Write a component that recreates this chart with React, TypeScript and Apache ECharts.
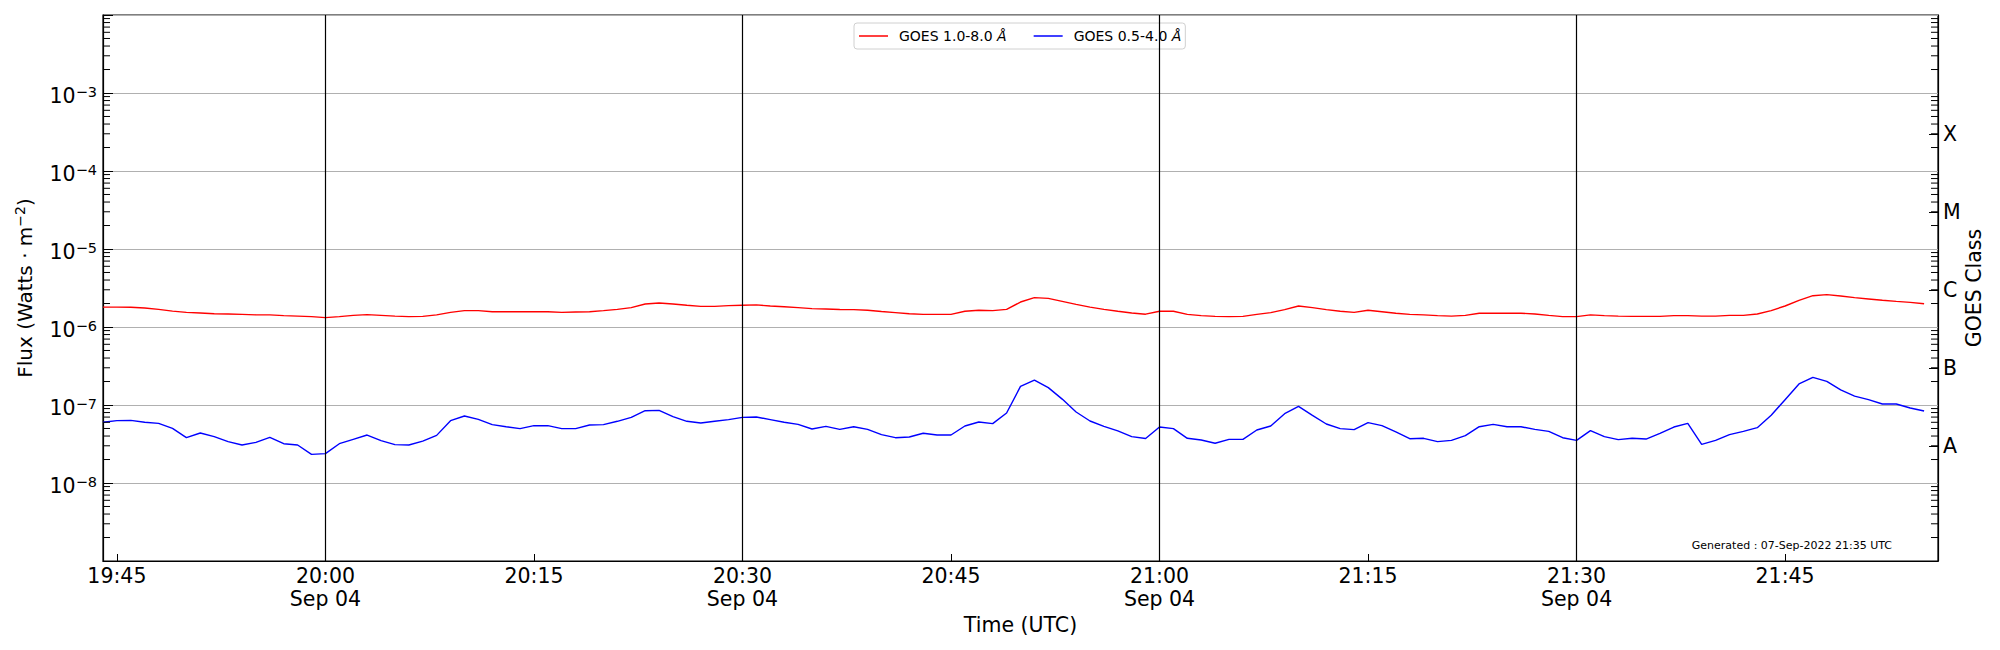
import React, { useEffect, useRef } from "react";
import * as echarts from "echarts";

// ---- Data (1-minute averages, 2022-09-04 19:44 UTC onwards) ----
const START_UTC = Date.UTC(2022, 8, 4, 19, 44);
const CADENCE_MS = 60000;
const X_END_MINUTES = 132;

const seriesNames = ["GOES 1.0-8.0 Å", "GOES 0.5-4.0 Å"];

const xrsLong = [
  1.80e-6, 1.80e-6, 1.79e-6, 1.75e-6, 1.68e-6, 1.60e-6, 1.54e-6, 1.51e-6, 1.48e-6, 1.47e-6,
  1.45e-6, 1.43e-6, 1.43e-6, 1.40e-6, 1.38e-6, 1.36e-6, 1.32e-6, 1.36e-6, 1.41e-6, 1.44e-6,
  1.41e-6, 1.38e-6, 1.36e-6, 1.37e-6, 1.43e-6, 1.54e-6, 1.62e-6, 1.62e-6, 1.57e-6, 1.57e-6,
  1.57e-6, 1.57e-6, 1.57e-6, 1.54e-6, 1.56e-6, 1.57e-6, 1.62e-6, 1.68e-6, 1.77e-6, 1.97e-6,
  2.03e-6, 1.97e-6, 1.90e-6, 1.84e-6, 1.84e-6, 1.88e-6, 1.90e-6, 1.92e-6, 1.86e-6, 1.82e-6,
  1.77e-6, 1.72e-6, 1.70e-6, 1.68e-6, 1.67e-6, 1.64e-6, 1.58e-6, 1.53e-6, 1.48e-6, 1.45e-6,
  1.45e-6, 1.45e-6, 1.59e-6, 1.64e-6, 1.62e-6, 1.68e-6, 2.09e-6, 2.38e-6, 2.33e-6, 2.13e-6,
  1.95e-6, 1.80e-6, 1.68e-6, 1.59e-6, 1.51e-6, 1.46e-6, 1.59e-6, 1.59e-6, 1.45e-6, 1.40e-6,
  1.37e-6, 1.36e-6, 1.37e-6, 1.45e-6, 1.53e-6, 1.67e-6, 1.86e-6, 1.77e-6, 1.67e-6, 1.59e-6,
  1.54e-6, 1.64e-6, 1.57e-6, 1.50e-6, 1.45e-6, 1.43e-6, 1.40e-6, 1.38e-6, 1.41e-6, 1.50e-6,
  1.50e-6, 1.50e-6, 1.50e-6, 1.47e-6, 1.41e-6, 1.36e-6, 1.36e-6, 1.43e-6, 1.40e-6, 1.38e-6,
  1.37e-6, 1.37e-6, 1.37e-6, 1.40e-6, 1.40e-6, 1.38e-6, 1.38e-6, 1.41e-6, 1.41e-6, 1.47e-6,
  1.62e-6, 1.86e-6, 2.20e-6, 2.52e-6, 2.60e-6, 2.50e-6, 2.38e-6, 2.29e-6, 2.20e-6, 2.13e-6,
  2.07e-6, 1.99e-6,
];

const xrsShort = [
  6.00e-8, 6.30e-8, 6.35e-8, 6.00e-8, 5.82e-8, 5.02e-8, 3.81e-8, 4.38e-8, 3.93e-8, 3.39e-8,
  3.07e-8, 3.32e-8, 3.85e-8, 3.19e-8, 3.07e-8, 2.33e-8, 2.38e-8, 3.19e-8, 3.63e-8, 4.12e-8,
  3.49e-8, 3.10e-8, 3.07e-8, 3.45e-8, 4.08e-8, 6.29e-8, 7.22e-8, 6.55e-8, 5.60e-8, 5.27e-8,
  4.98e-8, 5.43e-8, 5.43e-8, 4.98e-8, 4.98e-8, 5.54e-8, 5.60e-8, 6.18e-8, 6.95e-8, 8.45e-8,
  8.54e-8, 7.08e-8, 6.18e-8, 5.88e-8, 6.18e-8, 6.49e-8, 6.95e-8, 7.02e-8, 6.49e-8, 6.00e-8,
  5.65e-8, 4.92e-8, 5.32e-8, 4.87e-8, 5.27e-8, 4.87e-8, 4.17e-8, 3.81e-8, 3.89e-8, 4.34e-8,
  4.12e-8, 4.12e-8, 5.38e-8, 6.05e-8, 5.77e-8, 7.89e-8, 1.73e-7, 2.09e-7, 1.67e-7, 1.19e-7,
  8.13e-8, 6.24e-8, 5.32e-8, 4.65e-8, 3.93e-8, 3.72e-8, 5.22e-8, 4.98e-8, 3.74e-8, 3.56e-8,
  3.23e-8, 3.63e-8, 3.63e-8, 4.78e-8, 5.38e-8, 7.74e-8, 9.61e-8, 7.38e-8, 5.71e-8, 4.98e-8,
  4.83e-8, 5.94e-8, 5.43e-8, 4.51e-8, 3.70e-8, 3.74e-8, 3.39e-8, 3.52e-8, 4.04e-8, 5.27e-8,
  5.65e-8, 5.27e-8, 5.27e-8, 4.87e-8, 4.59e-8, 3.81e-8, 3.52e-8, 4.69e-8, 3.93e-8, 3.60e-8,
  3.74e-8, 3.66e-8, 4.33e-8, 5.22e-8, 5.82e-8, 3.13e-8, 3.52e-8, 4.17e-8, 4.59e-8, 5.12e-8,
  7.38e-8, 1.17e-7, 1.86e-7, 2.26e-7, 2.01e-7, 1.56e-7, 1.30e-7, 1.17e-7, 1.03e-7, 1.03e-7,
  9.16e-8, 8.38e-8,
];

const xTickTimes = ["19:45", "20:00", "20:15", "20:30", "20:45", "21:00", "21:15", "21:30", "21:45"];
const dateLabelTimes = ["20:00", "20:30", "21:00", "21:30"];
const dateLabel = "Sep 04";
const verticalLineTimes = ["20:00", "20:30", "21:00", "21:30"];

const goesClassLabels = ["A", "B", "C", "M", "X"];
const goesClassFlux = [3e-8, 3e-7, 3e-6, 3e-5, 3e-4];

const minorTickDecades = [-9, -8, -7, -6, -5, -4, -3];
const minorTickMantissas = [2, 3, 4, 5, 6, 7, 8, 9];

const generatedText = "Generated : 07-Sep-2022 21:35 UTC";

const FONT = "DejaVu Sans";

function hhmmToMs(s: string): number {
  const [h, m] = s.split(":").map(Number);
  return Date.UTC(2022, 8, 4, h, m);
}
function msToHHMM(v: number): string {
  const d = new Date(v);
  const h = String(d.getUTCHours()).padStart(2, "0");
  const m = String(d.getUTCMinutes()).padStart(2, "0");
  return `${h}:${m}`;
}

export default function App() {
  const ref = useRef<HTMLDivElement>(null);

  useEffect(() => {
    document.body.style.margin = "0";
    if (!ref.current) return;
    const chart = echarts.init(ref.current, null, { renderer: "svg" });

    const xMin = START_UTC;
    const xMax = START_UTC + X_END_MINUTES * CADENCE_MS;
    const longData = xrsLong.map((v, i) => [START_UTC + i * CADENCE_MS, v]);
    const shortData = xrsShort.map((v, i) => [START_UTC + i * CADENCE_MS, v]);
    const minorTicks: number[][] = [];
    minorTickDecades.forEach((e) =>
      minorTickMantissas.forEach((m) => minorTicks.push([xMin, m * Math.pow(10, e)]))
    );
    const classExps = goesClassFlux.map((f) => Math.log10(f));

    const option: any = {
      animation: false,
      textStyle: { fontFamily: FONT, color: "#000" },
      grid: {
        left: 103,
        right: 62,
        top: 15,
        bottom: 89,
        show: true,
        borderColor: "#000",
        borderWidth: 1.2,
        backgroundColor: "transparent",
      },
      legend: {
        data: seriesNames.map((n) => ({ name: n, icon: "rect" })),
        left: 854,
        top: 23,
        orient: "horizontal",
        itemWidth: 29,
        itemHeight: 1.5,
        itemGap: 27,
        padding: [6, 4, 6, 5],
        borderColor: "#d0d0d0",
        borderWidth: 1,
        borderRadius: 3,
        backgroundColor: "rgba(255,255,255,0.8)",
        formatter: (name: string) => `{n|${name.replace(" Å", " ")}}{i|Å}`,
        textStyle: {
          fontFamily: FONT,
          fontSize: 14,
          color: "#000",
          padding: [0, 0, 0, 6],
          rich: {
            n: { fontFamily: FONT, fontSize: 14, color: "#000", lineHeight: 16 },
            i: { fontFamily: FONT, fontSize: 14, fontStyle: "italic", color: "#000", lineHeight: 16 },
          },
        },
      },
      xAxis: {
        type: "value",
        min: xMin,
        max: xMax,
        name: "Time (UTC)",
        nameLocation: "middle",
        nameGap: 52,
        nameTextStyle: { fontFamily: FONT, fontSize: 20.5, color: "#000" },
        axisLine: { show: true, lineStyle: { color: "#000", width: 1.2 } },
        axisTick: {
          show: true,
          inside: true,
          length: 7,
          lineStyle: { color: "#000", width: 1 },
          customValues: xTickTimes.map(hhmmToMs),
        },
        axisLabel: {
          show: true,
          customValues: xTickTimes.map(hhmmToMs),
          fontFamily: FONT,
          fontSize: 20.5,
          color: "#000",
          lineHeight: 23,
          margin: 3,
          formatter: (v: number) => {
            const t = msToHHMM(v);
            return dateLabelTimes.includes(t) ? `${t}\n${dateLabel}` : t;
          },
        },
        splitLine: { show: false },
      },
      yAxis: [
        {
          type: "log",
          logBase: 10,
          min: 1e-9,
          max: 1e-2,
          position: "left",
          name: "{a|Flux (Watts · m}{s|−2}{a|)}",
          nameLocation: "middle",
          nameRotate: 90,
          nameGap: 66,
          nameTextStyle: {
            rich: {
              a: { fontFamily: FONT, fontSize: 20, color: "#000", lineHeight: 24 },
              s: { fontFamily: FONT, fontSize: 14, color: "#000", verticalAlign: "top", lineHeight: 10 },
            },
          },
          axisLine: { show: true, lineStyle: { color: "#000", width: 1.2 } },
          axisTick: { show: true, inside: true, length: 10, lineStyle: { color: "#000", width: 1 } },
          axisLabel: {
            show: true,
            margin: 6,
            padding: [6, 0, 0, 0],
            formatter: (v: number) => {
              const e = Math.round(Math.log10(v));
              if (e <= -9 || e >= -2) return "";
              return `{b|10}{s|−${-e}}`;
            },
            rich: {
              b: { fontFamily: FONT, fontSize: 20.5, color: "#000", lineHeight: 24 },
              s: { fontFamily: FONT, fontSize: 14.5, color: "#000", verticalAlign: "top", lineHeight: 10 },
            },
          },
          splitLine: { show: true, lineStyle: { color: "#b0b0b0", width: 1 } },
        },
        {
          type: "value",
          min: -9,
          max: -2,
          position: "right",
          name: "GOES Class",
          nameLocation: "middle",
          nameRotate: 90,
          nameGap: 25,
          nameMoveOverlap: false,
          nameTextStyle: { fontFamily: FONT, fontSize: 20.5, color: "#000" },
          axisLine: { show: true, lineStyle: { color: "#000", width: 1.2 } },
          axisTick: {
            show: true,
            inside: true,
            length: 9,
            lineStyle: { color: "#000", width: 1 },
            customValues: classExps,
          },
          axisLabel: {
            show: true,
            customValues: classExps,
            margin: 5,
            fontFamily: FONT,
            fontSize: 20.5,
            color: "#000",
            formatter: (v: number) => {
              const idx = classExps.findIndex((e) => Math.abs(e - v) < 1e-6);
              return idx >= 0 ? goesClassLabels[idx] : "";
            },
          },
          splitLine: { show: false },
        },
      ],
      series: [
        {
          name: seriesNames[0],
          type: "line",
          data: longData,
          xAxisIndex: 0,
          yAxisIndex: 0,
          symbol: "none",
          showSymbol: false,
          lineStyle: { color: "#ff0000", width: 1.4 },
          itemStyle: { color: "#ff0000" },
          markLine: {
            silent: true,
            symbol: ["none", "none"],
            label: { show: false },
            lineStyle: { color: "#000", width: 1.2, type: "solid" },
            data: verticalLineTimes.map((t) => ({ xAxis: hhmmToMs(t) })),
          },
          z: 3,
        },
        {
          name: seriesNames[1],
          type: "line",
          data: shortData,
          xAxisIndex: 0,
          yAxisIndex: 0,
          symbol: "none",
          showSymbol: false,
          lineStyle: { color: "#0000ff", width: 1.4 },
          itemStyle: { color: "#0000ff" },
          z: 3,
        },
        {
          name: "minorTicks",
          type: "custom",
          xAxisIndex: 0,
          yAxisIndex: 0,
          silent: true,
          clip: false,
          data: minorTicks,
          z: 5,
          renderItem: (params: any, api: any) => {
            const v = api.value(1);
            const pl = api.coord([xMin, v]);
            const pr = api.coord([xMax, v]);
            return {
              type: "group",
              children: [
                {
                  type: "line",
                  shape: { x1: pl[0], y1: pl[1], x2: pl[0] + 7, y2: pl[1] },
                  style: { stroke: "#000", lineWidth: 1 },
                },
                {
                  type: "line",
                  shape: { x1: pr[0] - 7, y1: pr[1], x2: pr[0], y2: pr[1] },
                  style: { stroke: "#000", lineWidth: 1 },
                },
              ],
            };
          },
        },
      ],
      graphic: [
        {
          type: "text",
          x: 1892,
          y: 545,
          style: {
            text: generatedText,
            fontFamily: FONT,
            fontSize: 11,
            fill: "#000",
            align: "right",
            verticalAlign: "middle",
          },
          z: 10,
        },
      ],
    };

    chart.setOption(option);
    return () => chart.dispose();
  }, []);

  return <div ref={ref} style={{ width: "2000px", height: "650px" }} />;
}
